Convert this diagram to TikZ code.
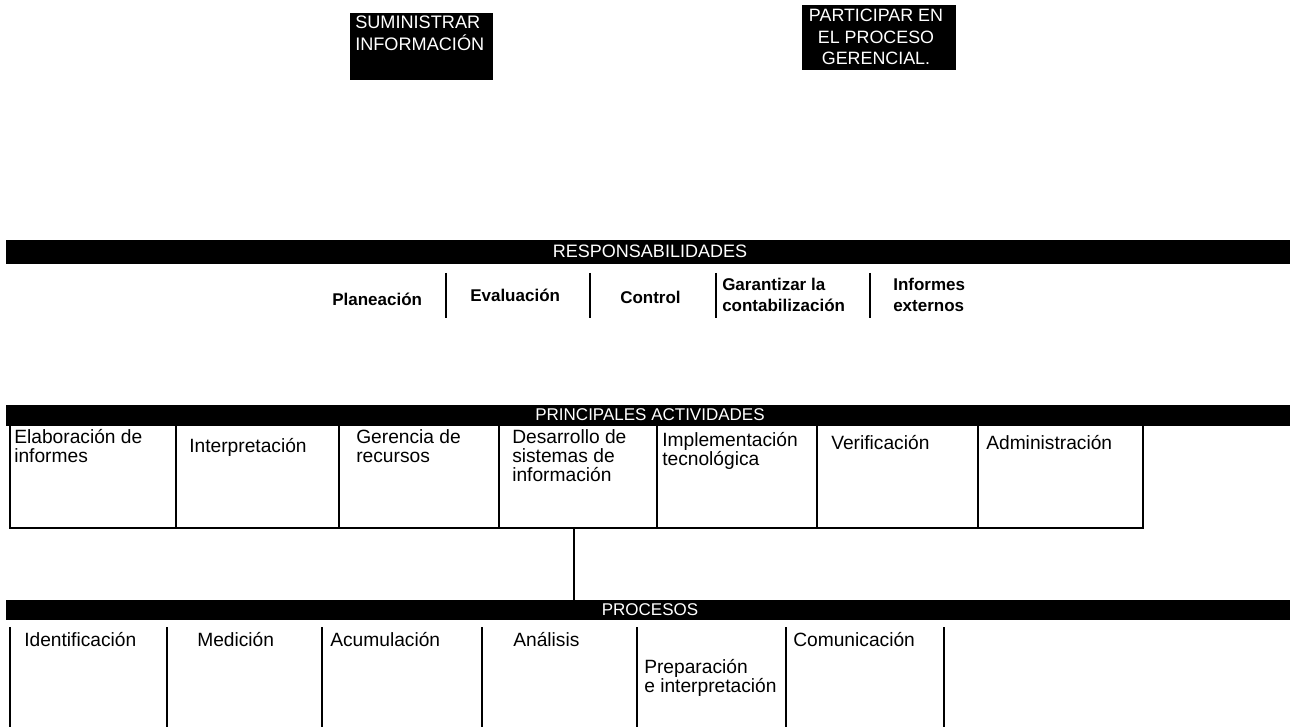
\documentclass[tikz,border=0pt]{standalone}
\usepackage{fontspec}
\setmainfont{Liberation Sans}
\begin{document}
\begin{tikzpicture}[x=0.75pt,y=-0.75pt,
  blackbar/.style={fill=black,draw=none},
  bartext/.style={text=white,font=\fontsize{12.75pt}{14pt}\selectfont,inner sep=0,anchor=base},
  boxtext/.style={text=white,font=\fontsize{13.6pt}{16.3pt}\selectfont,inner sep=0,anchor=base west,align=left},
  boxtextc/.style={text=white,font=\fontsize{13.4pt}{16.3pt}\selectfont,inner sep=0,anchor=base,align=center},
  celltext/.style={font=\fontsize{14.4pt}{14.25pt}\selectfont,inner sep=0,anchor=base west,align=left},
  resptext/.style={font=\bfseries\fontsize{12.75pt}{15.75pt}\selectfont,inner sep=0,anchor=base west,align=left},
  rulebar/.style={line width=1.5pt}]
\useasboundingbox (0,0) rectangle (1290,727);

% top boxes (anchors at the baseline of the last line)
\fill[black] (350,13) rectangle (493,80);
\node[boxtext] (sum) at (355,50.5) {SUMINISTRAR\\INFORMACIÓN};
\fill[black] (802,5) rectangle (956,70);
\node[boxtextc] (par) at (876,65) {PARTICIPAR EN\\EL PROCESO\\GERENCIAL.};

% responsabilidades
\fill[blackbar] (6,240) rectangle (1290,264);
\node[bartext,font=\fontsize{13.5pt}{15pt}\selectfont] (resp) at (650,257.5) {RESPONSABILIDADES};
\node[resptext] (r1) at (332,306) {Planeación};
\node[resptext] (r2) at (470,302) {Evaluación};
\node[resptext] (r3) at (620,304) {Control};
\node[resptext] (r4) at (722,312) {Garantizar la\\contabilización};
\node[resptext] (r5) at (893,312) {Informes\\externos};
\foreach \x/\n in {446/d1,590/d2,716/d3,870/d4}{
  \coordinate (\n t) at (\x,273); \coordinate (\n b) at (\x,318);
  \draw[rulebar] (\n t) -- (\n b);
}

% principales actividades
\fill[blackbar] (6,405) rectangle (1290,426);
\node[bartext] (act) at (650,420.5) {PRINCIPALES ACTIVIDADES};
\coordinate (tl) at (10,426); \coordinate (bl) at (10,528);
\coordinate (tr) at (1143,426); \coordinate (br) at (1143,528);
\draw[rulebar] (tl) -- (bl) -- (br) -- (tr);
\foreach \x/\n in {176/a1,339/a2,499/a3,657/a4,817/a5,978/a6}{
  \coordinate (\n t) at (\x,426); \coordinate (\n b) at (\x,528);
  \draw[rulebar] (\n t) -- (\n b);
}
\node[celltext] (c1) at (14,463) {Elaboración de\\informes};
\node[celltext] (c2) at (189,453) {Interpretación};
\node[celltext] (c3) at (356,463) {Gerencia de\\recursos};
\node[celltext] (c4) at (512,482) {Desarrollo de\\sistemas de\\información};
\node[celltext] (c5) at (662,465) {Implementación\\tecnológica};
\node[celltext] (c6) at (831,450) {Verificación};
\node[celltext] (c7) at (986,450) {Administración};

% connector
\coordinate (k1) at (574,528); \coordinate (k2) at (574,600);
\draw[rulebar] (k1) -- (k2);

% procesos
\fill[blackbar] (6,600) rectangle (1290,620);
\node[bartext] (proc) at (650,615) {PROCESOS};
\foreach \x/\n in {10/p0,167/p1,322/p2,482/p3,637/p4,786/p5,944/p6}{
  \coordinate (\n t) at (\x,627); \coordinate (\n b) at (\x,727);
  \draw[rulebar] (\n t) -- (\n b);
}
\node[celltext] (q1) at (24,646) {Identificación};
\node[celltext] (q2) at (197,646) {Medición};
\node[celltext] (q3) at (330,646) {Acumulación};
\node[celltext] (q4) at (513,646) {Análisis};
\node[celltext] (q5) at (644,692) {Preparación\\e interpretación};
\node[celltext] (q6) at (793,646) {Comunicación};
\end{tikzpicture}
\end{document}
